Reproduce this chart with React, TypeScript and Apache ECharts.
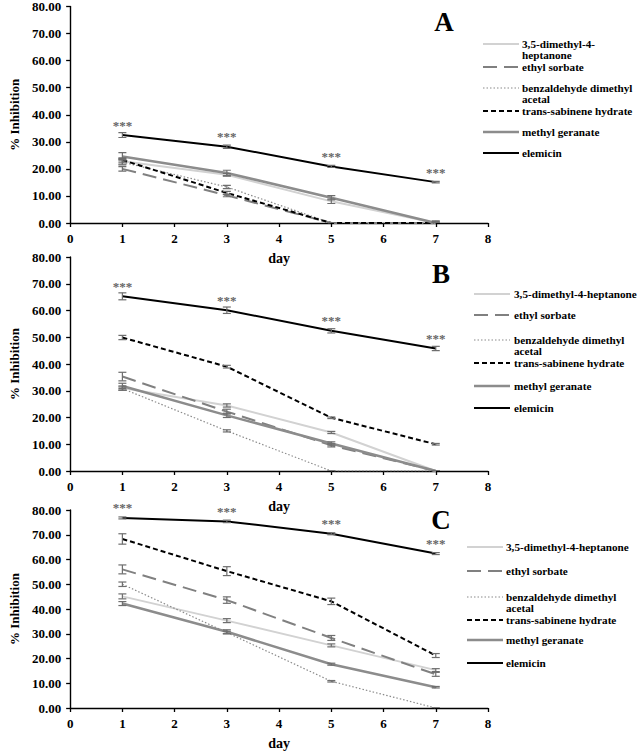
import React, { useEffect, useRef } from 'react';
import * as echarts from 'echarts';

// ---------- data ----------
const days = [1, 3, 5, 7];
const compounds = [
  '3,5-dimethyl-4-heptanone',
  'ethyl sorbate',
  'benzaldehyde dimethyl acetal',
  'trans-sabinene hydrate',
  'methyl geranate',
  'elemicin',
];
const panelLetters = ['A', 'B', 'C'];
const significance = '***';

// means per compound (rows follow `compounds`), columns follow `days`
const aMeans = [
  [22.8, 17.8, 8.0, 0],
  [20.0, 10.2, 0, 0],
  [22.5, 13.3, 0, 0],
  [23.3, 11.1, 0, 0],
  [24.6, 18.5, 9.3, 0],
  [32.5, 28.2, 20.9, 15.1],
];
const aErrors = [
  [1.0, 0.5, 0.8, 0.5],
  [0.8, 0.5, 0, 0],
  [1.0, 0.6, 0, 0],
  [0.8, 0.6, 0, 0],
  [1.4, 1.0, 0.8, 0.8],
  [0.9, 0.6, 0.4, 0.3],
];
const bMeans = [
  [31.0, 24.5, 14.4, 0],
  [35.3, 22.2, 9.6, 0],
  [30.8, 15.0, 0, 0],
  [49.9, 39.0, 19.9, 10.0],
  [31.8, 20.8, 10.3, 0],
  [65.3, 60.1, 52.4, 45.8],
];
const bErrors = [
  [0.8, 0.6, 0.4, 0],
  [1.6, 0.9, 0.6, 0],
  [0.6, 0.4, 0, 0],
  [0.8, 0.5, 0.3, 0.3],
  [1.0, 0.8, 0.6, 0],
  [1.3, 1.2, 0.8, 0.8],
];
const cMeans = [
  [45.1, 35.3, 25.3, 15.3],
  [56.0, 43.6, 28.3, 13.6],
  [50.0, 30.5, 10.8, 0],
  [68.3, 55.3, 43.1, 21.2],
  [42.2, 30.8, 17.7, 8.4],
  [76.8, 75.4, 70.4, 62.4],
];
const cErrors = [
  [1.0, 0.8, 0.6, 0.6],
  [1.8, 1.3, 1.0, 0.8],
  [0.9, 0.5, 0.3, 0],
  [2.1, 1.8, 1.3, 0.8],
  [0.8, 0.8, 0.4, 0.3],
  [0.4, 0.5, 0.4, 0.4],
];
const panelMeans = [aMeans, bMeans, cMeans];
const panelErrors = [aErrors, bErrors, cErrors];

// legend label texts per panel (line breaks as in the figure)
const aLegendLabels = ['3,5-dimethyl-4-\nheptanone', 'ethyl sorbate', 'benzaldehyde dimethyl\nacetal', 'trans-sabinene hydrate', 'methyl geranate', 'elemicin'];
const bLegendLabels = ['3,5-dimethyl-4-heptanone', 'ethyl sorbate', 'benzaldehyde dimethyl\nacetal', 'trans-sabinene hydrate', 'methyl geranate', 'elemicin'];
const cLegendLabels = ['3,5-dimethyl-4-heptanone', 'ethyl sorbate', 'benzaldehyde dimethyl\nacetal', 'trans-sabinene hydrate', 'methyl geranate', 'elemicin'];
const panelLegendLabels = [aLegendLabels, bLegendLabels, cLegendLabels];

// ---------- styles / layout ----------
const FONT = 'Liberation Serif';
const LEGEND_FONT = 11.2;
const lineStyles: any[] = [
  { color: '#d2d2d2', width: 2, type: 'solid' },
  { color: '#808080', width: 2, type: [14, 7] },
  { color: '#8a8a8a', width: 1.2, type: [1.5, 2] },
  { color: '#000000', width: 2, type: [5, 3] },
  { color: '#8c8c8c', width: 2.5, type: 'solid' },
  { color: '#000000', width: 2, type: 'solid' },
];
const grids = [
  { left: 56, width: 432, top: 4, height: 219 },
  { left: 56, width: 432, top: 257, height: 214 },
  { left: 56, width: 432, top: 510, height: 200 },
];
const letterPos = [
  [444, 22],
  [441, 274],
  [441, 520],
];
const legendLayout = [
  { x0: 483, x1: 519, tx: 522, ys: [44, 67, 88, 111, 132, 153] },
  { x0: 474, x1: 510, tx: 514, ys: [294, 315, 340, 363, 386, 408] },
  { x0: 467, x1: 503, tx: 506, ys: [547, 571, 597, 620, 640, 663] },
];

function buildOption() {
  const xAxis: any[] = [];
  const yAxis: any[] = [];
  const series: any[] = [];
  const graphic: any[] = [];

  grids.forEach((g, p) => {
    xAxis.push({
      type: 'value',
      gridIndex: p,
      min: 0,
      max: 8,
      interval: 1,
      name: 'day',
      nameLocation: 'middle',
      nameGap: 28,
      nameTextStyle: { fontFamily: FONT, fontWeight: 'bold', fontSize: 14, color: '#000' },
      axisLine: { show: true, onZero: false, lineStyle: { color: '#000', width: 1.4 } },
      axisTick: { show: true, length: 4, lineStyle: { color: '#000', width: 1.3 } },
      axisLabel: { fontFamily: FONT, fontWeight: 'bold', fontSize: 13, color: '#000', margin: 9 },
      splitLine: { show: false },
    });
    yAxis.push({
      type: 'value',
      gridIndex: p,
      min: 0,
      max: 80,
      interval: 10,
      name: '% Inhibition',
      nameLocation: 'middle',
      nameGap: 48,
      nameTextStyle: { fontFamily: FONT, fontWeight: 'bold', fontSize: 13, color: '#000' },
      axisLine: { show: true, onZero: false, lineStyle: { color: '#000', width: 1.4 } },
      axisTick: { show: true, length: 4, lineStyle: { color: '#000', width: 1.3 } },
      axisLabel: {
        fontFamily: FONT,
        fontWeight: 'bold',
        fontSize: 13,
        color: '#000',
        margin: 9,
        formatter: (v: number) => v.toFixed(2),
      },
      splitLine: { show: false },
    });

    const means = panelMeans[p];
    const errors = panelErrors[p];
    compounds.forEach((name, i) => {
      const isElemicin = i === compounds.length - 1;
      series.push({
        type: 'line',
        name,
        xAxisIndex: p,
        yAxisIndex: p,
        data: days.map((d, k) => [d, means[i][k]]),
        showSymbol: isElemicin,
        symbol: 'circle',
        symbolSize: 1,
        itemStyle: { color: 'rgba(0,0,0,0)' },
        lineStyle: { ...lineStyles[i] },
        label: isElemicin
          ? {
              show: true,
              formatter: significance,
              position: 'top',
              distance: 3,
              color: '#666666',
              fontFamily: FONT,
              fontWeight: 'bold',
              fontSize: 13,
            }
          : { show: false },
        emphasis: { disabled: true },
        silent: true,
        z: 2,
      });
    });

    const errData: any[] = [];
    compounds.forEach((_, i) => {
      days.forEach((d, k) => errData.push([d, means[i][k], errors[i][k]]));
    });
    series.push({
      type: 'custom',
      name: 'error bars ' + panelLetters[p],
      xAxisIndex: p,
      yAxisIndex: p,
      data: errData,
      encode: { x: 0, y: 1 },
      clip: true,
      silent: true,
      z: 3,
      renderItem: (params: any, api: any) => {
        const x = api.value(0);
        const y = api.value(1);
        const e = api.value(2);
        const top = api.coord([x, y + e]);
        const bot = api.coord([x, y - e]);
        const hw = 4;
        const style = { stroke: '#6e6e6e', lineWidth: 1.2 };
        return {
          type: 'group',
          children: [
            { type: 'line', shape: { x1: top[0], y1: top[1], x2: bot[0], y2: bot[1] }, style },
            { type: 'line', shape: { x1: top[0] - hw, y1: top[1], x2: top[0] + hw, y2: top[1] }, style },
            { type: 'line', shape: { x1: bot[0] - hw, y1: bot[1], x2: bot[0] + hw, y2: bot[1] }, style },
          ],
        };
      },
    });

    // panel letter
    graphic.push({
      type: 'text',
      x: letterPos[p][0],
      y: letterPos[p][1],
      style: {
        text: panelLetters[p],
        fontFamily: FONT,
        fontWeight: 'bold',
        fontSize: 27,
        fill: '#000',
        align: 'center',
        verticalAlign: 'middle',
      },
    });

    // legend
    const L = legendLayout[p];
    panelLegendLabels[p].forEach((label, i) => {
      const y = L.ys[i];
      const ls = lineStyles[i];
      graphic.push({
        type: 'line',
        shape: { x1: L.x0, y1: y, x2: L.x1, y2: y },
        style: {
          stroke: ls.color,
          lineWidth: ls.width,
          lineDash: Array.isArray(ls.type) ? ls.type : null,
        },
      });
      graphic.push({
        type: 'text',
        x: L.tx,
        y: y - LEGEND_FONT / 2,
        style: {
          text: label,
          fontFamily: FONT,
          fontWeight: 'bold',
          fontSize: LEGEND_FONT,
          lineHeight: LEGEND_FONT,
          fill: '#000',
          align: 'left',
          verticalAlign: 'top',
        },
      });
    });
  });

  return {
    animation: false,
    backgroundColor: '#ffffff',
    textStyle: { fontFamily: FONT },
    grid: grids.map((g) => ({ ...g, containLabel: false })),
    xAxis,
    yAxis,
    series,
    graphic,
  };
}

export default function App() {
  const ref = useRef<HTMLDivElement>(null);
  useEffect(() => {
    if (!ref.current) return;
    const chart = echarts.init(ref.current, null, { renderer: 'svg' });
    chart.setOption(buildOption() as any);
    return () => chart.dispose();
  }, []);
  return (
    <div
      ref={ref}
      style={{ position: 'fixed', left: 0, top: 0, width: 638, height: 751, background: '#fff' }}
    />
  );
}
